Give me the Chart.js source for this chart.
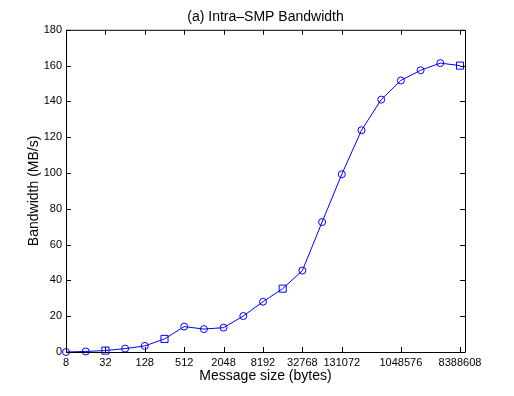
<!DOCTYPE html>
<html>
<head>
<meta charset="utf-8">
<script src="https://cdn.jsdelivr.net/npm/chart.js@4.4.1/dist/chart.umd.min.js"></script>
<style>
  html, body { margin: 0; padding: 0; background: #fff; }
  canvas { display: block; }
</style>
</head>
<body>
<canvas id="bwChart" width="514" height="396"></canvas>
<script>
(function () {
  'use strict';

  // Message sizes (bytes), one point per power of two
  const messageSizes = [8, 16, 32, 64, 128, 256, 512, 1024, 2048, 4096, 8192, 16384,
    32768, 65536, 131072, 262144, 524288, 1048576, 2097152, 4194304, 8388608];

  // Bandwidth (MB/s)
  const bandwidth = [0, 0.3, 0.8, 1.9, 3.4, 7.3, 14.2, 12.8, 13.6, 20.1, 28.1, 35.4,
    45.5, 72.6, 99.3, 123.9, 141.0, 151.7, 157.4, 161.4, 160.0];

  // Tick labels
  const xTicks = [8, 32, 128, 512, 2048, 8192, 32768, 131072, 1048576, 8388608];
  const yTicks = [0, 20, 40, 60, 80, 100, 120, 140, 160, 180];

  // Sizes drawn with a square marker instead of a circle
  const squareMarkers = [32, 256, 16384, 8388608];

  const FONT = 'Liberation Sans, Arial, Helvetica, sans-serif';
  const BLUE = '#0000ff';

  // Box round the axes with inward ticks on all four sides
  const framePlugin = {
    id: 'frame',
    afterDraw(chart) {
      const { ctx, chartArea: a, scales: { x, y } } = chart;
      const len = 5;
      ctx.save();
      ctx.strokeStyle = '#000';
      ctx.lineWidth = 1;
      ctx.beginPath();
      ctx.rect(a.left + 0.5, a.top + 0.5, a.right - a.left, a.bottom - a.top);
      xTicks.forEach(v => {
        const px = Math.round(x.getPixelForValue(v)) + 0.5;
        ctx.moveTo(px, a.bottom);
        ctx.lineTo(px, a.bottom - len);
        ctx.moveTo(px, a.top);
        ctx.lineTo(px, a.top + len);
      });
      yTicks.forEach(v => {
        const py = Math.round(y.getPixelForValue(v)) + 0.5;
        ctx.moveTo(a.left, py);
        ctx.lineTo(a.left + len, py);
        ctx.moveTo(a.right, py);
        ctx.lineTo(a.right - len, py);
      });
      ctx.stroke();
      ctx.restore();
    }
  };

  Chart.defaults.color = '#000';
  Chart.defaults.font.family = FONT;

  const ctx = document.getElementById('bwChart').getContext('2d');

  new Chart(ctx, {
    type: 'line',
    data: {
      datasets: [{
        data: messageSizes.map((s, i) => ({ x: s, y: bandwidth[i] })),
        borderColor: BLUE,
        borderWidth: 1,
        backgroundColor: 'transparent',
        pointBorderColor: BLUE,
        pointBackgroundColor: 'transparent',
        pointBorderWidth: 1,
        pointStyle: c => squareMarkers.includes(messageSizes[c.dataIndex]) ? 'rect' : 'circle',
        pointRadius: c => squareMarkers.includes(messageSizes[c.dataIndex]) ? 5 : 3.5,
        tension: 0,
        clip: false
      }]
    },
    options: {
      responsive: false,
      animation: false,
      layout: { padding: { left: 0, right: 49, top: 0, bottom: 0 } },
      plugins: {
        legend: { display: false },
        tooltip: { enabled: false },
        title: {
          display: true,
          fullSize: false,
          text: '(a) Intra\u2013SMP Bandwidth',
          font: { size: 14, weight: 'normal' },
          padding: { top: 9, bottom: 4 }
        }
      },
      scales: {
        x: {
          type: 'logarithmic',
          min: 8,
          max: 1e7,
          grid: { display: false, drawTicks: false },
          border: { display: false },
          afterBuildTicks: axis => {
            axis.ticks = xTicks.map(v => ({ value: v }));
          },
          afterFit: axis => { axis.height = 44; },
          ticks: {
            autoSkip: false,
            maxRotation: 0,
            padding: 4,
            font: { size: 11 },
            callback: value => String(value)
          },
          title: {
            display: true,
            text: 'Message size (bytes)',
            font: { size: 14 },
            padding: { top: 0, bottom: 11 }
          }
        },
        y: {
          min: 0,
          max: 180,
          grid: { display: false, drawTicks: false },
          border: { display: false },
          afterBuildTicks: axis => {
            axis.ticks = yTicks.map(v => ({ value: v }));
          },
          afterFit: axis => { axis.width = 66; },
          ticks: {
            padding: 4,
            font: { size: 11 }
          },
          title: {
            display: true,
            text: 'Bandwidth (MB/s)',
            font: { size: 14 },
            padding: { top: 26, bottom: 0 }
          }
        }
      }
    },
    plugins: [framePlugin]
  });
})();
</script>
</body>
</html>
